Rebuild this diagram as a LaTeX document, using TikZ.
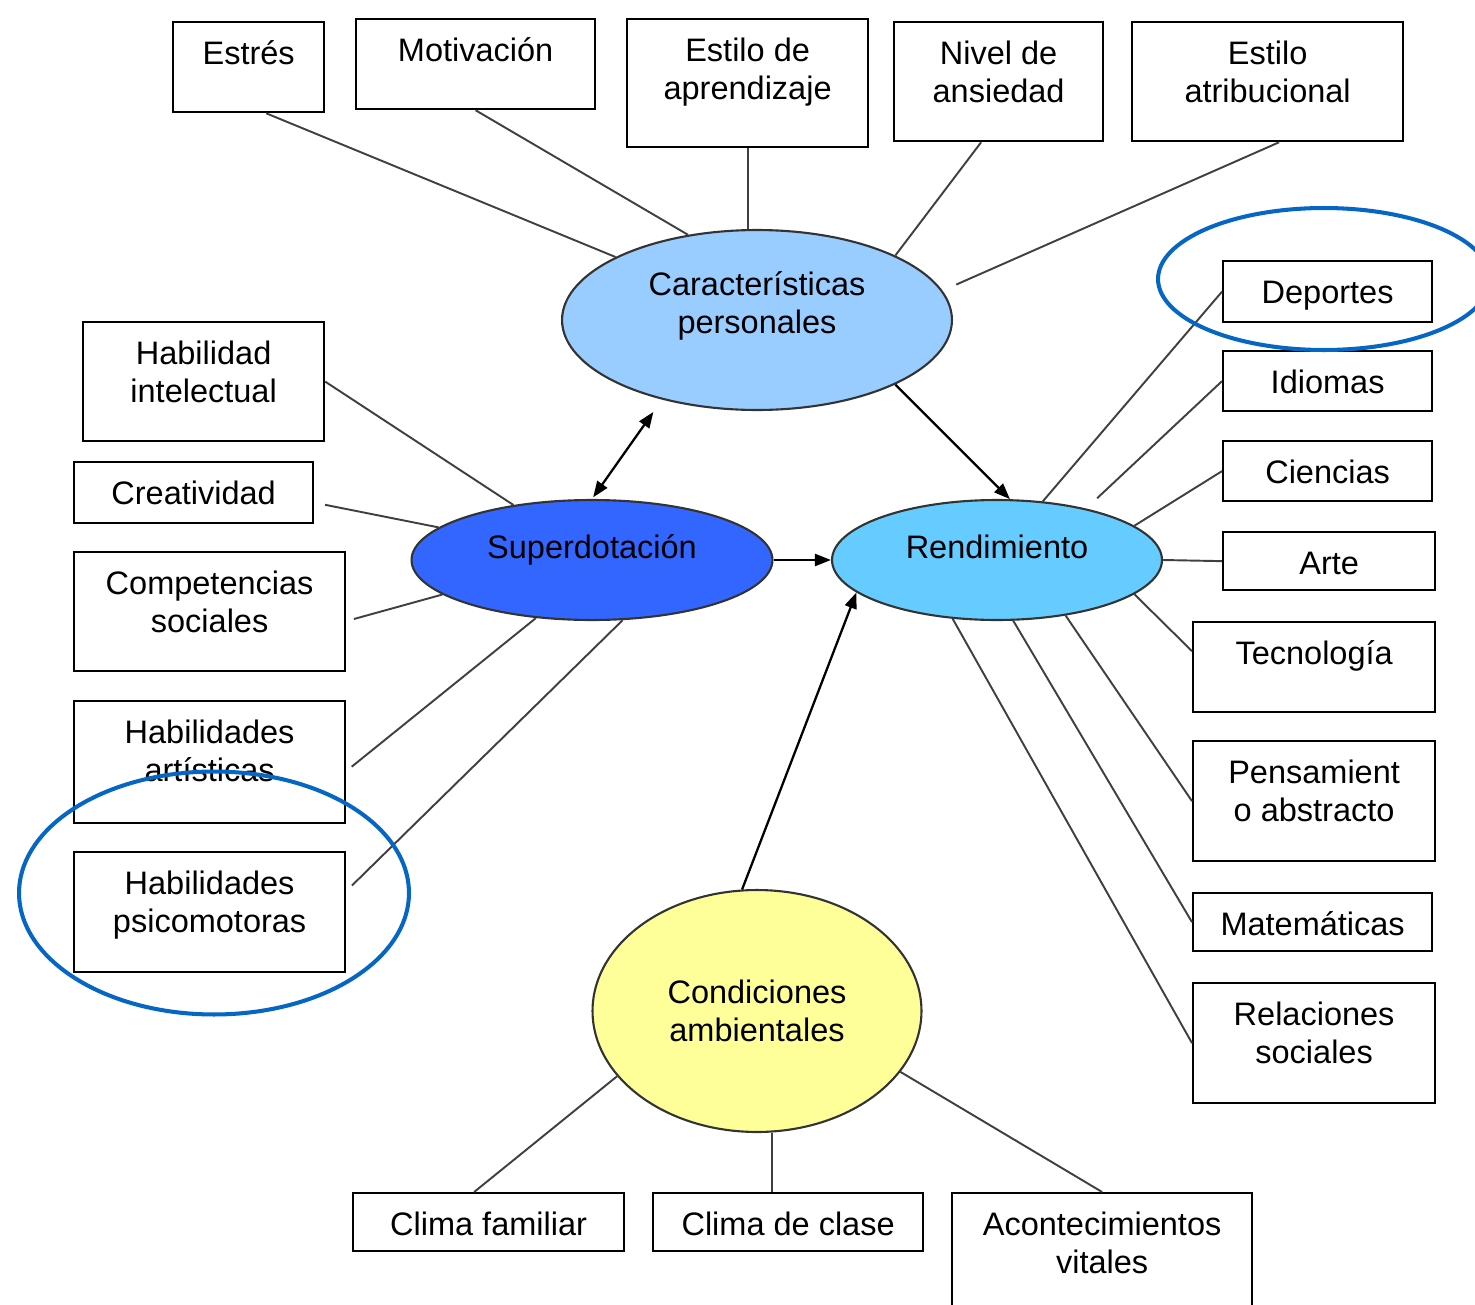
\documentclass[tikz,border=0pt]{standalone}
\usepackage{fontspec}
\setmainfont{Liberation Sans}
\usepackage{tikz}
\usetikzlibrary{positioning, calc}
\usetikzlibrary{arrows.meta}
\usetikzlibrary{shapes,arrows}
\definecolor{carblue}{RGB}{153,204,255}
\definecolor{supblue}{RGB}{51,102,255}
\definecolor{renblue}{RGB}{102,204,255}
\definecolor{conyellow}{RGB}{255,255,153}
\definecolor{ringblue}{RGB}{5,102,196}
\begin{document}
\begin{tikzpicture}[x=0.02cm,y=-0.02cm,draw=black!100,>={Triangle[length=0.32cm,width=0.24cm]}]
	\def \toppad{0.85cm}
	\def \boxtxt#1#2#3{\parbox[t][#2][t]{#1}{\centering\rule{0pt}{\toppad}#3}}
	\tikzstyle{b-node}=[draw,line width=1.3pt,inner sep=0pt,anchor=north west,font=\fontsize{18.5}{21.6}\selectfont]
	\tikzstyle{e-node}=[ellipse,draw=black!80,line width=1.2pt,inner sep=0pt,align=center,font=\fontsize{18.5}{21.6}\selectfont]
	\tikzstyle{ring}=[ellipse,draw=ringblue,line width=2.3pt,inner sep=0pt]
	\tikzstyle{link}=[draw=black!75,line width=1.1pt]
	\tikzstyle{arr}=[draw=black,line width=1.3pt]
	\useasboundingbox (0,0) rectangle (1475,1305);

	% personal traits
	\node[b-node] (estres)	at (172,21)	{\boxtxt{3.02cm}{1.80cm}{Estrés}};
	\node[b-node] (motiv)	at (355,18)	{\boxtxt{4.78cm}{1.80cm}{Motivación}};
	\node[b-node] (estilo)	at (626,18)	{\boxtxt{4.82cm}{2.56cm}{Estilo de\\aprendizaje}};
	\node[b-node] (ansied)	at (893,21)	{\boxtxt{4.18cm}{2.38cm}{Nivel de\\ansiedad}};
	\node[b-node] (atrib)	at (1131,21)	{\boxtxt{5.42cm}{2.38cm}{Estilo\\atribucional}};

	% giftedness
	\node[b-node] (intelec)	at (82,321)	{\boxtxt{4.82cm}{2.38cm}{Habilidad\\intelectual}};
	\node[b-node] (creativ)	at (73,461)	{\boxtxt{4.78cm}{1.22cm}{Creatividad}};
	\node[b-node] (compet)	at (73,551)	{\boxtxt{5.42cm}{2.38cm}{Competencias\\sociales}};
	\node[b-node] (artist)	at (73,700)	{\boxtxt{5.42cm}{2.44cm}{Habilidades\\artísticas}};
	\node[b-node] (psicom)	at (73,851)	{\boxtxt{5.42cm}{2.40cm}{Habilidades\\psicomotoras}};

	% achievement areas
	\node[b-node] (deport)	at (1222,260)	{\boxtxt{4.18cm}{1.22cm}{Deportes}};
	\node[b-node] (idiom)	at (1222,350)	{\boxtxt{4.18cm}{1.20cm}{Idiomas}};
	\node[b-node] (cienc)	at (1222,440)	{\boxtxt{4.18cm}{1.20cm}{Ciencias}};
	\node[b-node] (arte)	at (1222,531)	{\boxtxt{4.24cm}{1.16cm}{Arte}};
	\node[b-node] (tecno)	at (1192,621)	{\boxtxt{4.84cm}{1.80cm}{Tecnología}};
	\node[b-node] (pensam)	at (1192,740)	{\boxtxt{4.84cm}{2.40cm}{Pensamient\\o abstracto}};
	\node[b-node] (matem)	at (1192,892)	{\boxtxt{4.78cm}{1.16cm}{Matemáticas}};
	\node[b-node] (relac)	at (1192,982)	{\boxtxt{4.84cm}{2.40cm}{Relaciones\\sociales}};

	% environment
	\node[b-node] (climfam)	at (352,1192)	{\boxtxt{5.42cm}{1.16cm}{Clima familiar}};
	\node[b-node] (climcla)	at (652,1192)	{\boxtxt{5.40cm}{1.16cm}{Clima de clase}};
	\node[b-node] (aconte)	at (951,1192)	{\boxtxt{6.00cm}{2.60cm}{Acontecimientos\\vitales}};

	% main ellipses
	\node[e-node,fill=carblue,minimum width=7.8cm,minimum height=3.6cm,text depth=0.68cm]	(carac)	at (757,320)	{Características\\personales};
	\node[e-node,fill=supblue,minimum width=7.22cm,minimum height=2.4cm,text depth=0.54cm]	(superd)	at (592,560)	{Superdotación};
	\node[e-node,fill=renblue,minimum width=6.6cm,minimum height=2.4cm,text depth=0.52cm]	(rendim)	at (997,560)	{Rendimiento};
	\node[e-node,fill=conyellow,minimum width=6.58cm,minimum height=4.84cm]	(condic)	at (757,1011)	{Condiciones\\ambientales};

	\path
		([xshift=0.35cm]estres.south)	edge[link]	(carac.156)
		(motiv.south)	edge[link]	(carac.129)
		(estilo.south)	edge[link]	(estilo.south |- carac.north)
		([xshift=-0.35cm]ansied.south)	edge[link]	(carac.25)
		([xshift=0.23cm]atrib.south)	edge[link,shorten >=0.3cm]	(carac.9)
		%
		(intelec.east)	edge[link]	(superd.145)
		([yshift=-0.2cm]creativ.east)	edge[link,shorten <=0.22cm]	(superd.168)
		([yshift=-0.19cm]compet.east)	edge[link,shorten <=0.16cm]	(superd.193)
		([yshift=-0.18cm]artist.east)	edge[link,shorten <=0.14cm]	(superd.226)
		([yshift=0.42cm]psicom.east)	edge[link,shorten <=0.16cm]	(superd.297)
		%
		(deport.west)	edge[link]	(rendim.52)
		(idiom.west)	edge[link,shorten >=0.3cm]	(rendim.30)
		(cienc.west)	edge[link]	(rendim.14)
		(arte.west)	edge[link]	(rendim.east)
		([yshift=0.32cm]tecno.west)	edge[link]	(rendim.346)
		(pensam.west)	edge[link]	(rendim.321)
		(matem.west)	edge[link]	(rendim.285)
		(relac.west)	edge[link]	(rendim.233)
		%
		([xshift=-0.29cm]climfam.north)	edge[link]	(condic.205)
		([xshift=-0.32cm]climcla.north)	edge[link]	([xshift=-0.32cm]climcla.north |- condic.south)
		(aconte.north)	edge[link]	(condic.337);

	% influences
	\draw[arr,<->,shorten >=0.3cm,shorten <=0.04cm] (superd.north) -- (carac.220);
	\draw[arr,->] (carac.335) -- (rendim.78);
	\draw[arr,->] (superd.east) -- (rendim.west);
	\draw[arr,->] (condic.97) -- (rendim.193);

	% highlights
	\node[ring,minimum width=6.64cm,minimum height=2.84cm]	(ringdep)	at (1324,279)	{};
	\node[ring,minimum width=7.8cm,minimum height=4.86cm]	(ringpsi)	at (214,893)	{};
\end{tikzpicture}
\end{document}
